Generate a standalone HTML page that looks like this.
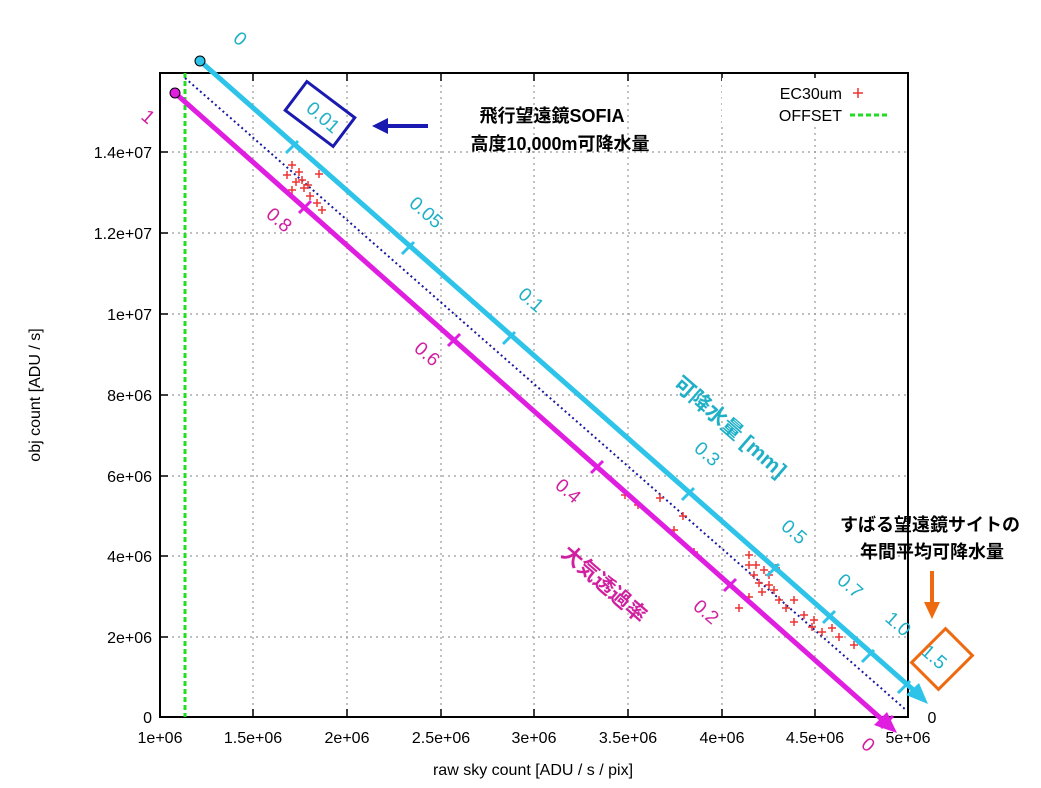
<!DOCTYPE html>
<html><head><meta charset="utf-8"><style>
body{margin:0;background:#fff;width:1041px;height:783px;overflow:hidden}
text{font-family:"Liberation Sans","Noto Sans CJK JP",sans-serif}
</style></head><body>
<svg width="1041" height="783" viewBox="0 0 1041 783" xmlns="http://www.w3.org/2000/svg">
<g stroke="#999" stroke-dasharray="2,4" stroke-width="1.2">
<line x1="253" y1="73" x2="253" y2="717"/><line x1="347" y1="73" x2="347" y2="717"/>
<line x1="441" y1="73" x2="441" y2="717"/><line x1="534" y1="73" x2="534" y2="717"/>
<line x1="628" y1="73" x2="628" y2="717"/><line x1="722" y1="73" x2="722" y2="717"/>
<line x1="815" y1="73" x2="815" y2="717"/>
<line x1="160" y1="637" x2="908" y2="637"/><line x1="160" y1="556" x2="908" y2="556"/>
<line x1="160" y1="476" x2="908" y2="476"/><line x1="160" y1="395" x2="908" y2="395"/>
<line x1="160" y1="314" x2="908" y2="314"/><line x1="160" y1="233" x2="908" y2="233"/>
<line x1="160" y1="152" x2="908" y2="152"/>
</g>
<g stroke="#000" stroke-width="2" fill="none">
<rect x="160" y="73" width="748" height="644"/>
</g>
<g stroke="#000" stroke-width="1.5">
<line x1="253" y1="717" x2="253" y2="709"/><line x1="347" y1="717" x2="347" y2="709"/><line x1="441" y1="717" x2="441" y2="709"/><line x1="534" y1="717" x2="534" y2="709"/><line x1="628" y1="717" x2="628" y2="709"/><line x1="722" y1="717" x2="722" y2="709"/><line x1="815" y1="717" x2="815" y2="709"/>
<line x1="253" y1="73" x2="253" y2="81"/><line x1="347" y1="73" x2="347" y2="81"/><line x1="441" y1="73" x2="441" y2="81"/><line x1="534" y1="73" x2="534" y2="81"/><line x1="628" y1="73" x2="628" y2="81"/><line x1="722" y1="73" x2="722" y2="81"/><line x1="815" y1="73" x2="815" y2="81"/>
<line x1="160" y1="637" x2="168" y2="637"/><line x1="160" y1="556" x2="168" y2="556"/><line x1="160" y1="476" x2="168" y2="476"/><line x1="160" y1="395" x2="168" y2="395"/><line x1="160" y1="314" x2="168" y2="314"/><line x1="160" y1="233" x2="168" y2="233"/><line x1="160" y1="152" x2="168" y2="152"/>
</g>
<g font-size="16" fill="#000" text-anchor="end">
<text x="152" y="723">0</text><text x="152" y="643">2e+06</text><text x="152" y="562">4e+06</text><text x="152" y="482">6e+06</text><text x="152" y="401">8e+06</text><text x="152" y="320">1e+07</text><text x="152" y="239">1.2e+07</text><text x="152" y="158">1.4e+07</text>
</g>
<g font-size="16" fill="#000" text-anchor="middle">
<text x="160" y="743">1e+06</text><text x="253" y="743">1.5e+06</text><text x="347" y="743">2e+06</text><text x="441" y="743">2.5e+06</text><text x="534" y="743">3e+06</text><text x="628" y="743">3.5e+06</text><text x="722" y="743">4e+06</text><text x="815" y="743">4.5e+06</text><text x="908" y="743">5e+06</text>
<text x="533" y="775">raw sky count [ADU / s / pix]</text>
<text x="932" y="723">0</text>
</g>
<text x="0" y="0" font-size="16" text-anchor="middle" transform="translate(40,395) rotate(-90)">obj count [ADU / s]</text>
<line x1="185" y1="73" x2="185" y2="717" stroke="#22dd22" stroke-width="3" stroke-dasharray="5,3"/>
<line x1="185" y1="78" x2="906" y2="710" stroke="#1a1aa0" stroke-width="2" stroke-dasharray="2,3"/>
<g stroke="#e33" stroke-width="1.5">
<path d="M288 165h8M292 161v8M295 172h8M299 168v8M283 175h8M287 171v8M292 182h8M296 178v8M300 188h8M304 184v8M306 196h8M310 192v8M313 203h8M317 199v8M318 210h8M322 206v8M288 190h8M292 186v8M315 174h8M319 170v8M298 180h8M302 176v8M304 185h8M308 181v8M621 495h8M625 491v8M634 505h8M638 501v8M656 498h8M660 494v8M679 516h8M683 512v8M690 552h8M694 548v8M670 530h8M674 526v8M745 555h8M749 551v8M752 565h8M756 561v8M760 570h8M764 566v8M750 575h8M754 571v8M755 583h8M759 579v8M765 585h8M769 581v8M770 590h8M774 586v8M758 592h8M762 588v8M775 600h8M779 596v8M782 608h8M786 604v8M790 600h8M794 596v8M800 615h8M804 611v8M810 620h8M814 616v8M818 632h8M822 628v8M828 628h8M832 624v8M835 637h8M839 633v8M808 627h8M812 623v8M790 622h8M794 618v8M745 597h8M749 593v8M735 608h8M739 604v8M765 575h8M769 571v8M772 568h8M776 564v8M850 645h8M854 641v8M745 565h8M749 561v8"/>
</g>
<g stroke="#2ec4ea" stroke-width="5">
<line x1="200" y1="61" x2="918" y2="694"/>
</g>
<polygon points="928,704 906,695 919,683" fill="#2ec4ea"/>
<g stroke="#2ec4ea" stroke-width="3">
<line x1="286" y1="153" x2="298" y2="141"/><line x1="402" y1="254" x2="414" y2="242"/><line x1="503" y1="344" x2="515" y2="332"/><line x1="682" y1="500" x2="694" y2="488"/><line x1="767" y1="576" x2="779" y2="564"/><line x1="823" y1="623" x2="835" y2="611"/><line x1="862" y1="662" x2="874" y2="650"/><line x1="898" y1="693" x2="910" y2="681"/>
</g>
<circle cx="200" cy="61" r="5" fill="#2ec4ea" stroke="#000"/>
<line x1="175" y1="93" x2="886" y2="723" stroke="#e01ee0" stroke-width="5"/>
<polygon points="897,733 874,725 887,712" fill="#e01ee0"/>
<g stroke="#e01ee0" stroke-width="3">
<line x1="299" y1="213" x2="311" y2="201"/><line x1="448" y1="346" x2="460" y2="334"/><line x1="591" y1="473" x2="603" y2="461"/><line x1="724" y1="591" x2="736" y2="579"/><line x1="881" y1="728" x2="893" y2="716"/>
</g>
<circle cx="175" cy="93" r="5" fill="#e01ee0" stroke="#000"/>
<g fill="#1fb0c8" font-size="19">
<text transform="translate(232,40) rotate(41)">0</text>
<text transform="translate(408,205) rotate(41)">0.05</text>
<text transform="translate(517,296) rotate(41)">0.1</text>
<text transform="translate(693,450) rotate(41)">0.3</text>
<text transform="translate(780,528) rotate(41)">0.5</text>
<text transform="translate(836,582) rotate(41)">0.7</text>
<text transform="translate(884,620) rotate(41)">1.0</text>
<text transform="translate(920,653) rotate(41)">1.5</text>
<text transform="translate(305,110) rotate(41)">0.01</text>
<text font-size="21" font-weight="bold" transform="translate(672,386) rotate(41)">可降水量 [mm]</text>
</g>
<g fill="#d020a0" font-size="19">
<text transform="translate(140,118) rotate(41)">1</text>
<text transform="translate(265,216) rotate(41)">0.8</text>
<text transform="translate(413,350) rotate(41)">0.6</text>
<text transform="translate(554,487) rotate(41)">0.4</text>
<text transform="translate(692,608) rotate(41)">0.2</text>
<text transform="translate(860,746) rotate(41)">0</text>
<text font-size="21" font-weight="bold" transform="translate(560,555) rotate(41)">大気透過率</text>
</g>
<rect x="290" y="96" width="60" height="36" fill="none" stroke="#1a1ab0" stroke-width="3" transform="rotate(37 320 114)"/>
<line x1="428" y1="126" x2="384" y2="126" stroke="#1a1ab0" stroke-width="4"/>
<polygon points="372,126 388,118 388,134" fill="#1a1ab0"/>
<g font-size="18" font-weight="bold" fill="#000" text-anchor="middle">
<text x="552" y="122">飛行望遠鏡SOFIA</text>
<text x="560" y="150">高度10,000m可降水量</text>
<text x="930" y="531">すばる望遠鏡サイトの</text>
<text x="932" y="558">年間平均可降水量</text>
</g>
<line x1="932" y1="571" x2="932" y2="605" stroke="#ee6a10" stroke-width="4"/>
<polygon points="932,619 924,602 940,602" fill="#ee6a10"/>
<rect x="923" y="635" width="38" height="48" fill="none" stroke="#ee6a10" stroke-width="3" transform="rotate(45 942 659)"/>
<rect x="722" y="78" width="180" height="48" fill="#fff"/>
<g font-size="16" fill="#000" text-anchor="end">
<text x="842" y="99">EC30um</text><text x="842" y="121">OFFSET</text>
</g>
<path d="M853 93h10M858 88v10" stroke="#e33" stroke-width="1.5"/>
<line x1="850" y1="115" x2="888" y2="115" stroke="#22dd22" stroke-width="3" stroke-dasharray="5,3"/>
</svg>
</body></html>
